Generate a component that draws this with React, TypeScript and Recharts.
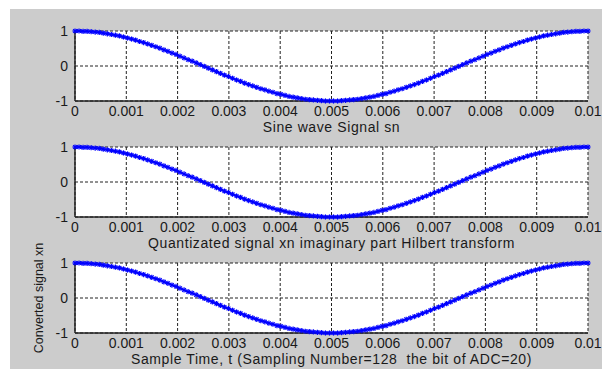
import React from 'react';
import { LineChart, Line, XAxis, YAxis, CartesianGrid } from 'recharts';

// 128 samples over one period, t from 0 to 0.01 s
const sampleCount = 128;
const tEnd = 0.01;

const xTicks = [0, 0.001, 0.002, 0.003, 0.004, 0.005, 0.006, 0.007, 0.008, 0.009, 0.01];
const yTicks = [-1, 0, 1];

// values (all three panels trace the same curve)
const sn = [
  1.0, 1.0, 0.99, 0.99, 0.98, 0.97, 0.96, 0.94, 0.92, 0.9,
  0.88, 0.86, 0.83, 0.8, 0.77, 0.74, 0.7, 0.67, 0.63, 0.59,
  0.55, 0.51, 0.46, 0.42, 0.37, 0.33, 0.28, 0.23, 0.18, 0.14,
  0.09, 0.04, -0.01, -0.06, -0.11, -0.16, -0.21, -0.26, -0.3, -0.35,
  -0.4, -0.44, -0.49, -0.53, -0.57, -0.61, -0.65, -0.68, -0.72, -0.75,
  -0.79, -0.81, -0.84, -0.87, -0.89, -0.91, -0.93, -0.95, -0.96, -0.97,
  -0.98, -0.99, -1.0, -1.0,
  -1.0, -1.0, -0.99, -0.98, -0.97, -0.96, -0.95, -0.93, -0.91, -0.89,
  -0.87, -0.84, -0.81, -0.79, -0.75, -0.72, -0.68, -0.65, -0.61, -0.57,
  -0.53, -0.49, -0.44, -0.4, -0.35, -0.3, -0.26, -0.21, -0.16, -0.11,
  -0.06, -0.01, 0.04, 0.09, 0.14, 0.18, 0.23, 0.28, 0.33, 0.37,
  0.42, 0.46, 0.51, 0.55, 0.59, 0.63, 0.67, 0.7, 0.74, 0.77,
  0.8, 0.83, 0.86, 0.88, 0.9, 0.92, 0.94, 0.96, 0.97, 0.98,
  0.99, 0.99, 1.0, 1.0,
];
const xnImag = sn;
const xnConverted = sn;

const panelLabels = [
  'Sine wave Signal sn',
  'Quantizated signal xn imaginary part Hilbert transform',
  'Sample Time, t (Sampling Number=128\u00a0 the bit of ADC=20)',
];
const yLabel3 = 'Converted signal xn';

const FONT = '"Liberation Sans", Arial, sans-serif';
const INK = '#1a1a1a';
const FRAME = '#222';
const PAD = 20; // room above each plot box for the rotated title

const toRows = (vals: number[]) =>
  vals.map((v, i) => ({ t: (i * tEnd) / (sampleCount - 1), v }));

const Star = (props: any) => {
  const { cx, cy } = props;
  if (cx == null || cy == null) return null;
  const r = 2.6;
  const d = 1.9;
  return (
    <g stroke="#0000ff" strokeWidth={1.2}>
      <line x1={cx - r} y1={cy} x2={cx + r} y2={cy} />
      <line x1={cx} y1={cy - r} x2={cx} y2={cy + r} />
      <line x1={cx - d} y1={cy - d} x2={cx + d} y2={cy + d} />
      <line x1={cx - d} y1={cy + d} x2={cx + d} y2={cy - d} />
    </g>
  );
};

const YTitle = (props: any) => {
  const vb = props.viewBox || {};
  const cy = (vb.y || 0) + (vb.height || 0) / 2;
  const x = 43;
  return (
    <text x={x} y={cy} transform={`rotate(-90 ${x} ${cy})`} textAnchor="middle" fill={INK} fontSize={12.5} fontFamily={FONT}>
      {props.value}
    </text>
  );
};

type PanelProps = { values: number[]; xLabel: string; yLabel?: string; top: number };

const Panel = ({ values, xLabel, yLabel, top }: PanelProps) => {
  const tickStyle = { fill: INK, fontSize: 14, fontFamily: FONT };
  return (
    <div style={{ position: 'absolute', left: 0, top: top - PAD }}>
      <LineChart width={602} height={106 + PAD} data={toRows(values)} margin={{ top: PAD, right: 14, bottom: 4, left: 0 }}>
        <CartesianGrid strokeDasharray="3 2" stroke="#222" fill="#fff" fillOpacity={1} />
        <XAxis
          dataKey="t"
          type="number"
          domain={[0, tEnd]}
          ticks={xTicks}
          interval={0}
          tickFormatter={(v: number) => String(v)}
          tickSize={0}
          tickMargin={5}
          height={32}
          tick={tickStyle}
          axisLine={{ stroke: FRAME, strokeWidth: 1.5 }}
          label={{ value: xLabel, position: 'insideBottom', offset: 1, fill: INK, fontSize: 14, fontFamily: FONT, letterSpacing: 0.6 }}
        />
        <XAxis xAxisId="top" orientation="top" dataKey="t" type="number" domain={[0, tEnd]} height={0} tick={false} tickLine={false} axisLine={{ stroke: FRAME, strokeWidth: 1.5 }} />
        <YAxis
          type="number"
          domain={[-1, 1]}
          ticks={yTicks}
          interval={0}
          width={75}
          tickSize={0}
          tickMargin={7}
          tick={tickStyle}
          axisLine={{ stroke: FRAME, strokeWidth: 1.5 }}
          label={yLabel ? { value: yLabel, content: <YTitle /> } : undefined}
        />
        <YAxis yAxisId="right" orientation="right" type="number" domain={[-1, 1]} width={0} tick={false} tickLine={false} axisLine={{ stroke: FRAME, strokeWidth: 1.5 }} />
        <Line type="linear" dataKey="v" stroke="#0000ff" strokeWidth={1.5} dot={<Star />} isAnimationActive={false} />
      </LineChart>
    </div>
  );
};

export default function App() {
  return (
    <div style={{ position: 'absolute', left: 0, top: 0, width: 602, height: 369, background: '#fff', overflow: 'hidden' }}>
      <div style={{ position: 'absolute', left: 10, top: 9, right: 0, bottom: 0, background: '#cccccc' }} />
      <Panel values={sn} xLabel={panelLabels[0]} top={31} />
      <Panel values={xnImag} xLabel={panelLabels[1]} top={147} />
      <Panel values={xnConverted} xLabel={panelLabels[2]} yLabel={yLabel3} top={263} />
    </div>
  );
}
